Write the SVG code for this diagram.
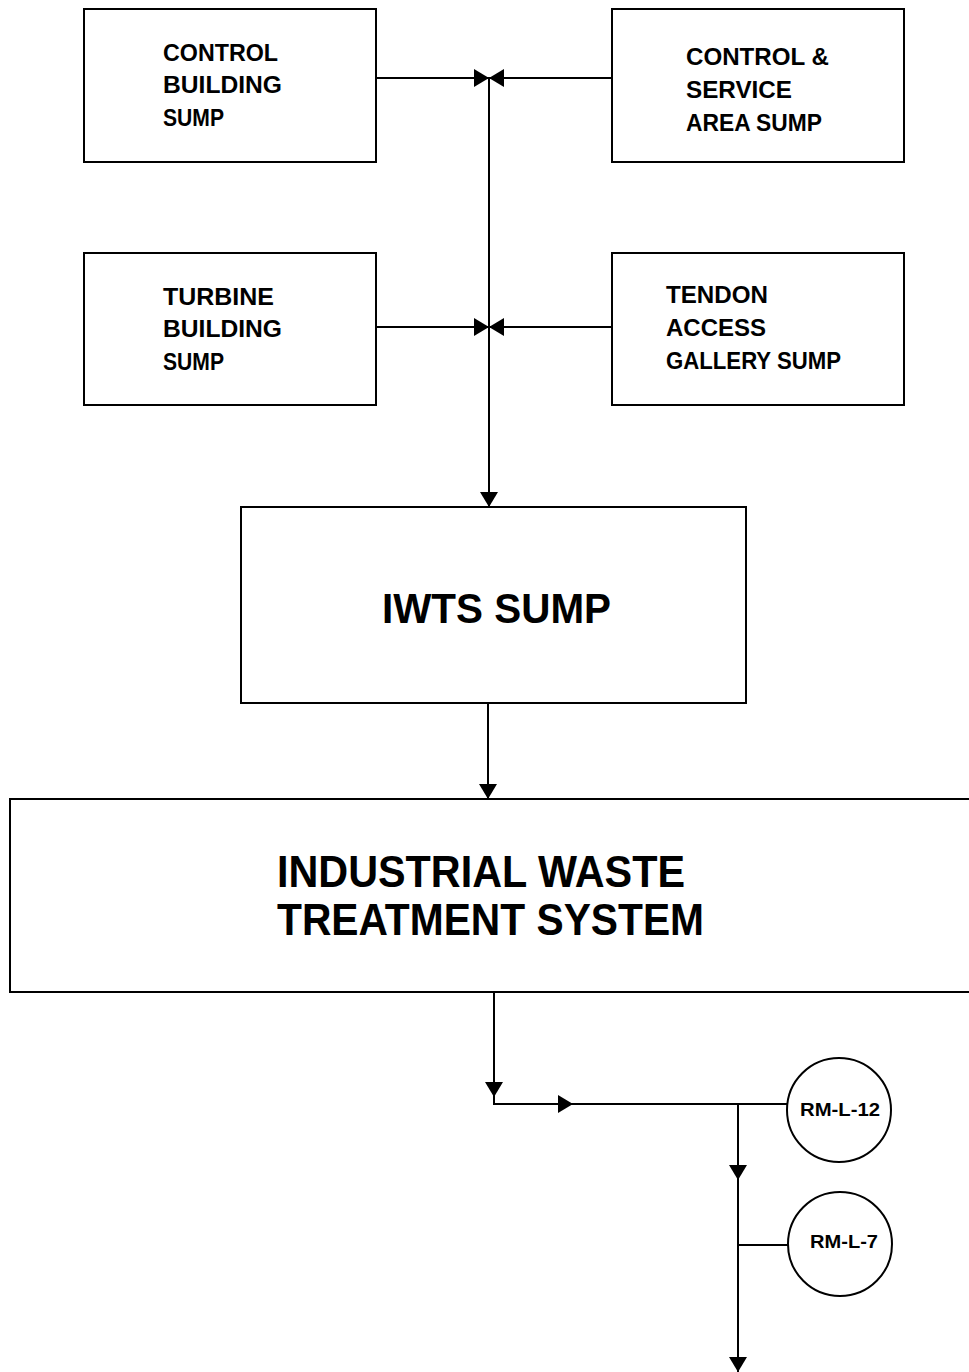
<svg xmlns="http://www.w3.org/2000/svg" width="969" height="1372" viewBox="0 0 969 1372">
<style>
.box{fill:#fff;stroke:#000;stroke-width:2}
.ln{fill:none;stroke:#000;stroke-width:2}
.t{font-family:"Liberation Sans",Arial,sans-serif;font-weight:bold;fill:#000}
.s{font-size:23px}
.c{font-size:18px}
</style>
<defs>
<marker id="ah" markerUnits="userSpaceOnUse" markerWidth="16" markerHeight="20" refX="15" refY="9" orient="auto">
<path d="M0,0 L15,9 L0,18 z" fill="#000"/>
</marker>
</defs>
<rect width="969" height="1372" fill="#fff"/>
<g id="connectors">
<path class="ln" d="M376,78 H489" marker-end="url(#ah)"/>
<path class="ln" d="M611,78 H489" marker-end="url(#ah)"/>
<path class="ln" d="M376,327 H489" marker-end="url(#ah)"/>
<path class="ln" d="M611,327 H489" marker-end="url(#ah)"/>
<path class="ln" d="M489,78 V507" marker-end="url(#ah)"/>
<path class="ln" d="M488,703 V799" marker-end="url(#ah)"/>
<path class="ln" d="M494,992 V1097" marker-end="url(#ah)"/>
<path class="ln" d="M494,1097 V1104 H573" marker-end="url(#ah)"/>
<path class="ln" d="M573,1104 H788"/>
<path class="ln" d="M738,1104 V1180" marker-end="url(#ah)"/>
<path class="ln" d="M738,1180 V1372" marker-end="url(#ah)"/>
<path class="ln" d="M738,1245 H788"/>
</g>
<g id="control-building-sump">
<rect class="box" x="84" y="9" width="292" height="153"/>
<text class="t s" x="163" y="61" textLength="115" lengthAdjust="spacingAndGlyphs">CONTROL</text>
<text class="t s" x="163" y="93" textLength="119" lengthAdjust="spacingAndGlyphs">BUILDING</text>
<text class="t s" x="163" y="126" textLength="61" lengthAdjust="spacingAndGlyphs">SUMP</text>
</g>
<g id="control-service-area-sump">
<rect class="box" x="612" y="9" width="292" height="153"/>
<text class="t s" x="686" y="65" textLength="143" lengthAdjust="spacingAndGlyphs">CONTROL &amp;</text>
<text class="t s" x="686" y="98" textLength="106" lengthAdjust="spacingAndGlyphs">SERVICE</text>
<text class="t s" x="686" y="131" textLength="136" lengthAdjust="spacingAndGlyphs">AREA SUMP</text>
</g>
<g id="turbine-building-sump">
<rect class="box" x="84" y="253" width="292" height="152"/>
<text class="t s" x="163" y="305" textLength="111" lengthAdjust="spacingAndGlyphs">TURBINE</text>
<text class="t s" x="163" y="337" textLength="119" lengthAdjust="spacingAndGlyphs">BUILDING</text>
<text class="t s" x="163" y="370" textLength="61" lengthAdjust="spacingAndGlyphs">SUMP</text>
</g>
<g id="tendon-access-gallery-sump">
<rect class="box" x="612" y="253" width="292" height="152"/>
<text class="t s" x="666" y="303" textLength="102" lengthAdjust="spacingAndGlyphs">TENDON</text>
<text class="t s" x="666" y="336" textLength="100" lengthAdjust="spacingAndGlyphs">ACCESS</text>
<text class="t s" x="666" y="369" textLength="175" lengthAdjust="spacingAndGlyphs">GALLERY SUMP</text>
</g>
<g id="iwts-sump">
<rect class="box" x="241" y="507" width="505" height="196"/>
<text class="t" font-size="42" x="382" y="623" textLength="229" lengthAdjust="spacingAndGlyphs">IWTS SUMP</text>
</g>
<g id="industrial-waste-treatment-system">
<rect class="box" x="10" y="799" width="975" height="193"/>
<text class="t" font-size="44" x="277" y="887" textLength="408" lengthAdjust="spacingAndGlyphs">INDUSTRIAL WASTE</text>
<text class="t" font-size="44" x="277" y="935" textLength="427" lengthAdjust="spacingAndGlyphs">TREATMENT SYSTEM</text>
</g>
<g id="rm-l-12">
<circle class="box" cx="839" cy="1110" r="52"/>
<text class="t c" x="800" y="1116" textLength="80" lengthAdjust="spacingAndGlyphs">RM-L-12</text>
</g>
<g id="rm-l-7">
<circle class="box" cx="840" cy="1244" r="52"/>
<text class="t c" x="810" y="1248" textLength="68" lengthAdjust="spacingAndGlyphs">RM-L-7</text>
</g>
</svg>
